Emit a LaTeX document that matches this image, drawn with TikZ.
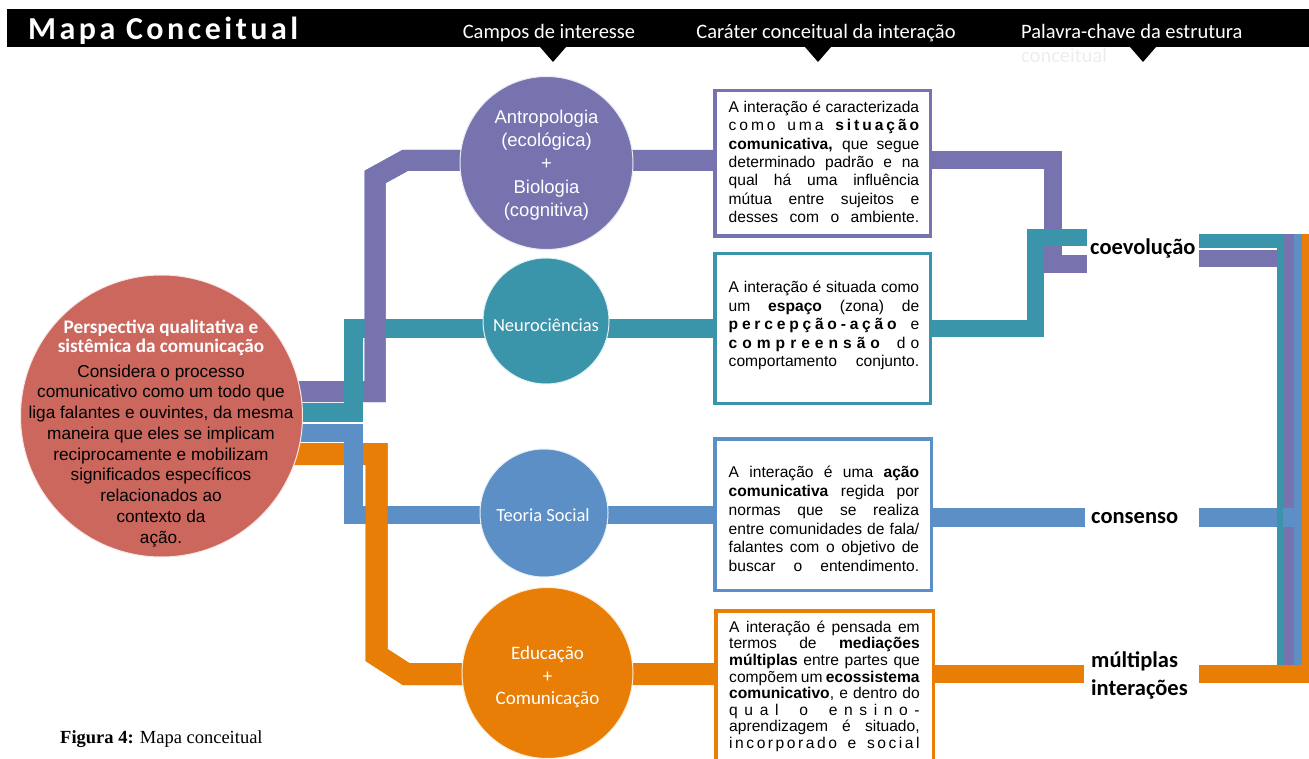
\documentclass[tikz,border=0pt]{standalone}
\usepackage{fontspec}
\setmainfont{Liberation Sans}
\newfontfamily\calfont{Carlito}
\newfontfamily\serfont{Liberation Serif}
\definecolor{purp}{HTML}{7673AF}
\definecolor{mteal}{HTML}{3A94AA}
\definecolor{mblue}{HTML}{5B8FC6}
\definecolor{morange}{HTML}{E87E06}
\definecolor{mred}{HTML}{CC675E}
% letter-spaced word: glue between every pair of letters
\def\spr#1{\sprA#1\relax}
\def\sprA#1#2{#1\ifx\relax#2\else\hfil\expandafter\sprA\expandafter#2\fi}
\newcommand\ws{\hskip .28em plus 2.5fil}
% one justified line of a text box
\newcommand\jl[1]{\makebox[190.5pt][s]{\rule{0pt}{12pt}#1}}
\tikzset{
  pbar/.style={draw=purp, line width=21pt, line join=miter, line cap=butt},
  tbar/.style={draw=mteal, line width=19pt, line join=miter, line cap=butt},
  bbar/.style={draw=mblue, line width=18.5pt, line join=miter, line cap=butt},
  obar/.style={draw=morange, line width=22pt, line join=miter, line cap=butt},
  fieldc/.style={circle, fill=#1, draw=white!85!#1, line width=1pt, inner sep=0pt},
  infobox/.style={draw=#1, line width=3.5pt, fill=white, inner sep=0pt},
  btext/.style={align=left, inner sep=0pt, anchor=north west},
  hdr/.style={text=white, inner sep=0pt, font=\calfont\fontsize{20.5}{24}\selectfont},
  keyw/.style={inner sep=0pt, anchor=base west, font=\calfont\bfseries\fontsize{22.5}{28}\selectfont},
  ctext/.style={text=white, inner sep=0pt, align=center},
}
\begin{document}
\begin{tikzpicture}[x=1pt,y=-1pt]
\useasboundingbox (0,0) rectangle (1309,759);

% ---------- header band ----------
\fill[black] (7,9) rectangle (1309,47);
\node[hdr, anchor=base west, font=\calfont\bfseries\fontsize{32}{34}\selectfont] (title) at (28,40)
  {\makebox[270pt][s]{\spr{Mapa}\hskip 0pt plus 3fil\spr{Conceitual}}};
\node[hdr, anchor=base] (h1) at (549,39) {Campos de interesse};
\node[hdr, anchor=base] (h2) at (826,39) {Caráter conceitual da interação};
\node[hdr, anchor=base west] (h3) at (1021,39) {Palavra-chave da estrutura};
\node[hdr, anchor=base west, text=black!7] (h3b) at (1021,63) {conceitual};
\fill[black] (540,47) -- (566,47) -- (553,62) -- cycle;
\fill[black] (805,47) -- (831,47) -- (818,62) -- cycle;
\fill[black] (1130,47) -- (1156,47) -- (1143,62) -- cycle;

% ---------- branches from the central circle ----------
\coordinate (pStart) at (250,391.5);
\coordinate (tStart) at (250,412.5);
\coordinate (bStart) at (250,433);
\coordinate (oStart) at (250,454);
% purple and teal
\draw[pbar] (pStart) -- (375,391.5) -- (375,177) -- (405,160.5) -- (560,160.5) -- (713,160.5);
\draw[tbar] (tStart) -- (353.5,412.5) -- (353.5,328.5) -- (713,328.5);
\draw[pbar] (375,402) -- (375,177) -- (405,160.5) -- (460,160.5);
% orange and blue
\draw[obar] (oStart) -- (376.5,454) -- (376.5,655) -- (406,674) -- (714,674);
\draw[bbar] (bStart) -- (353.5,433) -- (353.5,515) -- (713,515);
\draw[obar] (376.5,443) -- (376.5,655) -- (406,674) -- (470,674);

% ---------- circles ----------
\node[fieldc=mred, minimum size=282pt] (root) at (161.5,416) {};
\node[fieldc=purp, minimum size=173pt] (anth) at (546.5,163) {};
\node[fieldc=mteal, minimum size=126pt] (neuro) at (546,321) {};
\node[fieldc=mblue, minimum size=128pt] (social) at (544,513) {};
\node[fieldc=morange, minimum size=171pt] (edu) at (547.5,673) {};

\node[ctext, anchor=north, font=\calfont\bfseries\fontsize{19.2}{19}\selectfont] (rootT) at (161,319.5)
  {Perspectiva qualitativa e\\sistêmica da comunicação};
\node[inner sep=0pt, align=center, anchor=north, font=\fontsize{17.2}{20.75}\selectfont] (rootB) at (161,364.5)
  {Considera o processo\\comunicativo como um todo que\\liga falantes e ouvintes, da mesma\\maneira que eles se implicam\\reciprocamente e mobilizam\\significados específicos\\relacionados ao\\contexto da\\ação.};

\node[ctext, font=\fontsize{18.5}{23.3}\selectfont] (anthT) at (546.5,165)
  {Antropologia\\(ecológica)\\+\\Biologia\\(cognitiva)};
\node[ctext, anchor=base, font=\calfont\fontsize{18.5}{22}\selectfont] (neuroT) at (546,331) {Neurociências};
\node[ctext, anchor=base, font=\calfont\fontsize{18.5}{22}\selectfont] (socialT) at (543,521) {Teoria Social};
\node[ctext, font=\calfont\fontsize{19}{22.5}\selectfont] (eduT) at (547.5,677)
  {Educação\\+\\Comunicação};

% ---------- text boxes ----------
\node[infobox=purp, minimum width=215.5pt, minimum height=145.5pt] (b1) at (822.5,163.5) {};
\node[infobox=mteal, minimum width=215.5pt, minimum height=149.5pt] (b2) at (822.5,328.5) {};
\node[infobox=mblue, minimum width=216.5pt, minimum height=151.5pt] (b3) at (823,514.5) {};
\node[infobox=morange, minimum width=217.5pt, minimum height=170pt] (b4) at (824.5,695.75) {};

\node[btext, font=\fontsize{15.6}{18.3}\selectfont] (t1) at (728.5,100.5) {%
\jl{A interação é caracterizada}\\
\jl{\spr{como}\ws\spr{uma}\ws{\bfseries\spr{situação}}}\\
\jl{\textbf{comunicativa,} que segue}\\
\jl{determinado padrão e na}\\
\jl{qual há uma influência}\\
\jl{mútua entre sujeitos e}\\
\jl{desses com o ambiente.}};

\node[btext, font=\fontsize{15.6}{18.5}\selectfont] (t2) at (728.5,280.5) {%
\jl{A interação é situada como}\\
\jl{um \textbf{espaço} (zona) de}\\
\jl{{\bfseries\spr{percepção-ação}}\ws\spr{e}}\\
\jl{{\bfseries\spr{compreensão}}\ws\spr{do}}\\
\jl{comportamento conjunto.}};

\node[btext, font=\fontsize{15.6}{18.8}\selectfont] (t3) at (728.5,465.5) {%
\jl{A interação é uma \textbf{ação}}\\
\jl{\textbf{comunicativa} regida por}\\
\jl{normas que se realiza}\\
\jl{entre comunidades de fala/}\\
\jl{falantes com o objetivo de}\\
\jl{buscar o entendimento.}};

\node[btext, font=\fontsize{15.6}{16.6}\selectfont] (t4) at (729,620) {%
\jl{A interação é pensada em}\\
\jl{termos de \textbf{mediações}}\\
\jl{\textbf{múltiplas} entre partes que}\\
\jl{compõem um \textbf{ecossistema}}\\
\jl{\textbf{comunicativo}, e dentro do}\\
\jl{\spr{qual}\ws\spr{o}\ws\spr{ensino-}}\\
\jl{aprendizagem é situado,}\\
\jl{\spr{incorporado}\ws\spr{e}\ws\spr{social}}};

% ---------- key words ----------
\node[keyw] (coev) at (1090,255) {coevolução};
\node[keyw] (cons) at (1091,523) {consenso};
\node[keyw, align=left, anchor=north west, font=\calfont\bfseries\fontsize{22.5}{28}\selectfont] (mult) at (1091,651) {múltiplas\\interações};

% ---------- from boxes to key words ----------
\draw[pbar, line width=18pt] (b1.east |- 0,160.5) -- (1052.5,160.5) -- (1052.5,264) -- (1087,264);
\draw[tbar, line width=17pt] (b2.east |- 0,328.5) -- (1035,328.5) -- (1035,238) -- (1087,238);
\draw[bbar, line width=19pt] (b3.east |- 0,517.5) -- (1085,517.5);
\draw[obar, line width=18pt] (b4.east |- 0,674) -- (1084,674);

% ---------- from key words into the common column ----------
\draw[pbar, line width=17pt] (1199,258.5) -- (1277,258.5);
\draw[pbar, line width=11pt] (1288.5,234) -- (1288.5,665);
\draw[bbar, line width=19pt] (1199,517.5) -- (1296,517.5);
\draw[tbar, line width=14pt] (1199,241) -- (1283,241);
\draw[tbar, line width=6pt] (1280,234) -- (1280,665);
\draw[bbar, line width=8pt] (1298,234) -- (1298,665);
\draw[obar, line width=20pt] (1312,234) -- (1312,683);
\draw[obar, line width=18pt] (1199,674) -- (1322,674);

% ---------- caption ----------
\node[inner sep=0pt, anchor=base west, font=\serfont\fontsize{18.5}{20}\selectfont] (cap) at (60,743)
  {\textbf{Figura 4:} Mapa conceitual};
\end{tikzpicture}
\end{document}
